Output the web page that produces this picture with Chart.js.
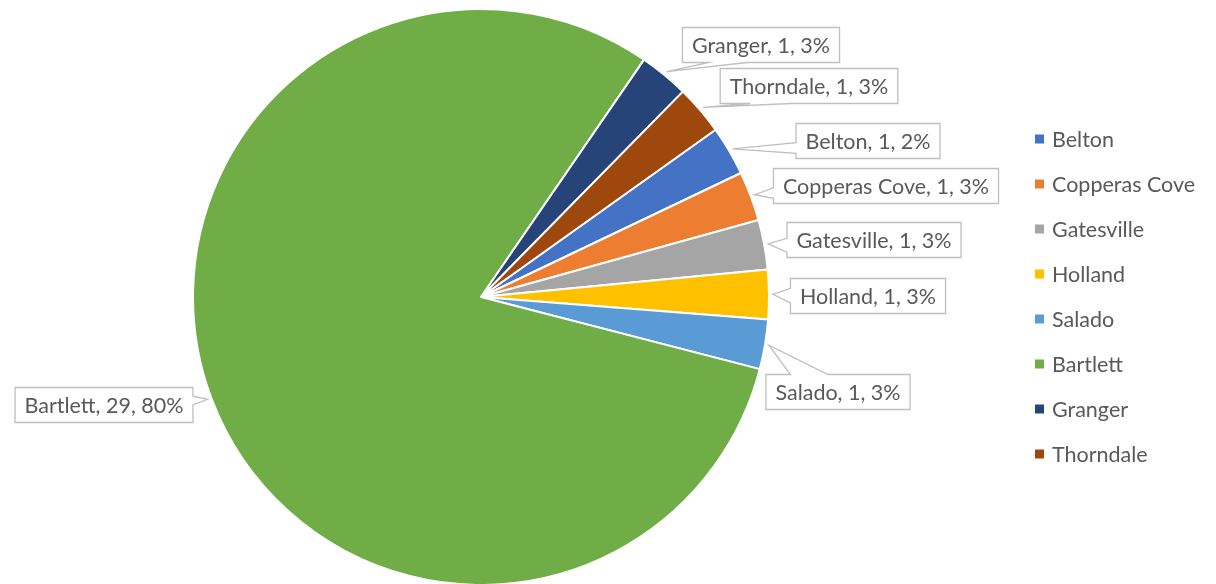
<!DOCTYPE html>
<html>
<head>
<meta charset="utf-8">
<script src="https://cdn.jsdelivr.net/npm/chart.js@4/dist/chart.umd.min.js"></script>
<style>
  html, body { margin: 0; padding: 0; background: #fff; overflow: hidden; }
  #wrap { position: relative; width: 1216px; height: 584px; }
</style>
</head>
<body>
<div id="wrap"><canvas id="c" width="1216" height="584"></canvas></div>
<script>
// ---- data ----
const categories = ['Belton', 'Copperas Cove', 'Gatesville', 'Holland', 'Salado', 'Bartlett', 'Granger', 'Thorndale'];
const values = [1, 1, 1, 1, 1, 29, 1, 1];
const percentLabels = ['2%', '3%', '3%', '3%', '3%', '80%', '3%', '3%'];
const colors = ['#4472C4', '#ED7D31', '#A5A5A5', '#FFC000', '#5B9BD5', '#70AD47', '#264478', '#9E480E'];

// ---- label layout (callout box centres, wedge side, wedge base fractions) ----
const calloutLayout = [
  { cx: 868, cy: 141, side: 'left',   b: [0.55, 0.85] },
  { cx: 886, cy: 186, side: 'left',   b: [0.55, 0.85] },
  { cx: 874, cy: 240, side: 'left',   b: [0.45, 0.85] },
  { cx: 868, cy: 296, side: 'left',   b: [0.28, 0.70] },
  { cx: 838, cy: 392, side: 'top',    b: [0.17, 0.43] },
  { cx: 104, cy: 405, side: 'right',  b: [0.25, 0.50] },
  { cx: 761, cy: 45,  side: 'bottom', b: [0.17, 0.41] },
  { cx: 809, cy: 86,  side: 'bottom', b: [0.17, 0.40] }
];

const FONT_FAMILY = 'Lato, "Open Sans", "Liberation Sans", sans-serif';
const FONT_SIZE = 21.5;
const TEXT_COLOR = '#595959';

function calloutPath(ctx, x, y, w, h, side, b, tip) {
  ctx.beginPath();
  ctx.moveTo(x, y);
  if (side === 'top') {
    ctx.lineTo(x + w * b[0], y); ctx.lineTo(tip.x, tip.y); ctx.lineTo(x + w * b[1], y);
  }
  ctx.lineTo(x + w, y);
  if (side === 'right') {
    ctx.lineTo(x + w, y + h * b[0]); ctx.lineTo(tip.x, tip.y); ctx.lineTo(x + w, y + h * b[1]);
  }
  ctx.lineTo(x + w, y + h);
  if (side === 'bottom') {
    ctx.lineTo(x + w * b[1], y + h); ctx.lineTo(tip.x, tip.y); ctx.lineTo(x + w * b[0], y + h);
  }
  ctx.lineTo(x, y + h);
  if (side === 'left') {
    ctx.lineTo(x, y + h * b[1]); ctx.lineTo(tip.x, tip.y); ctx.lineTo(x, y + h * b[0]);
  }
  ctx.closePath();
}

const calloutPlugin = {
  id: 'callouts',
  afterDatasetsDraw(chart) {
    const ctx = chart.ctx;
    const meta = chart.getDatasetMeta(0);
    ctx.save();
    ctx.font = FONT_SIZE + 'px ' + FONT_FAMILY;
    meta.data.forEach((arc, i) => {
      const p = arc.getProps(['x', 'y', 'startAngle', 'endAngle', 'outerRadius'], true);
      const mid = (p.startAngle + p.endAngle) / 2;
      const tip = { x: p.x + Math.cos(mid) * (p.outerRadius + 4), y: p.y + Math.sin(mid) * (p.outerRadius + 4) };
      const text = categories[i] + ', ' + values[i] + ', ' + percentLabels[i];
      const tw = ctx.measureText(text).width;
      const L = calloutLayout[i];
      const w = tw + 19, h = 35;
      const x = L.cx - w / 2, y = L.cy - h / 2;
      calloutPath(ctx, x, y, w, h, L.side, L.b, tip);
      ctx.fillStyle = '#ffffff';
      ctx.fill();
      ctx.strokeStyle = '#BFBFBF';
      ctx.lineWidth = 1.3;
      ctx.stroke();
      ctx.fillStyle = TEXT_COLOR;
      ctx.textAlign = 'center';
      ctx.textBaseline = 'middle';
      ctx.fillText(text, L.cx, L.cy + 1);
    });
    ctx.restore();
  }
};

const legendPlugin = {
  id: 'sideLegend',
  afterDraw(chart) {
    const ctx = chart.ctx;
    ctx.save();
    ctx.font = FONT_SIZE + 'px ' + FONT_FAMILY;
    ctx.textAlign = 'left';
    ctx.textBaseline = 'middle';
    categories.forEach((name, i) => {
      const cy = 139 + i * 45;
      ctx.fillStyle = colors[i];
      ctx.fillRect(1035, cy - 4.5, 9, 9);
      ctx.fillStyle = TEXT_COLOR;
      ctx.fillText(name, 1052, cy + 1);
    });
    ctx.restore();
  }
};

new Chart(document.getElementById('c'), {
  type: 'pie',
  data: {
    labels: categories,
    datasets: [{
      data: values,
      backgroundColor: colors,
      borderColor: '#ffffff',
      borderWidth: 2,
      radius: 288,
      rotation: 54.5
    }]
  },
  options: {
    responsive: false,
    animation: false,
    rotation: 54.5,
    radius: 288,
    layout: { padding: { left: 0, right: 254, top: 10, bottom: 0 } },
    plugins: {
      legend: { display: false },
      tooltip: { enabled: false },
      title: { display: false }
    }
  },
  plugins: [calloutPlugin, legendPlugin]
});
</script>
</body>
</html>
